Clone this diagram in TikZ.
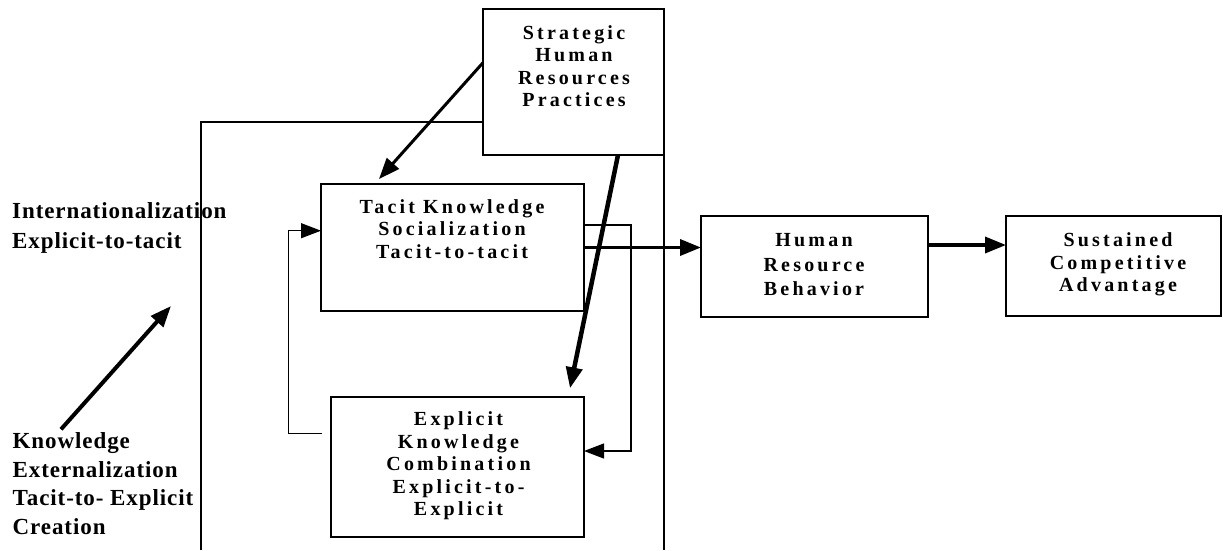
\documentclass[tikz,border=0pt]{standalone}
\usepackage{fontspec}
\setmainfont{Liberation Serif}
\newfontfamily\boxfont[LetterSpace=16]{Liberation Serif}
\newfontfamily\sidefont[LetterSpace=4]{Liberation Serif}
\usetikzlibrary{arrows.meta,calc}
\tikzset{
  box/.style={draw, line width=1.2pt, inner sep=0pt, outer sep=0pt, anchor=north west},
  boxtext/.style={font=\boxfont\bfseries\fontsize{20}{22.6}\selectfont, align=center, anchor=north, inner sep=0pt},
  sidetext/.style={font=\sidefont\bfseries\fontsize{23}{30}\selectfont, align=left, anchor=north west, inner sep=0pt},
  thinline/.style={line width=1.2pt},
  thinarrow/.style={line width=1.2pt, -{Triangle[length=20pt,width=15pt]}},
  heavyarrow/.style={line width=#1, -{Triangle[length=21pt,width=16pt]}},
}
\begin{document}
\begin{tikzpicture}[x=1pt,y=-1pt]
\useasboundingbox (0,0) rectangle (1223,550);

% boxes
\node[box, minimum width=181pt, minimum height=146pt] (shrp) at (483,9) {};
\node[box, minimum width=263pt, minimum height=127pt] (tacit) at (321,184) {};
\node[box, minimum width=253pt, minimum height=140pt] (explicit) at (331,397) {};
\node[box, minimum width=227pt, minimum height=101pt] (hrb) at (701,216) {};
\node[box, minimum width=215pt, minimum height=100pt] (sca) at (1006,216) {};

% box texts
\node[boxtext] (shrpT) at (574,25.1) {Strategic\\Human\\Resources\\Practices};
\node[boxtext] (tacitT) at (452,199.2) {Tacit Knowledge\\Socialization\\Tacit-to-tacit};
\node[boxtext] (explicitT) at (458.5,411.5) {Explicit\\Knowledge\\Combination\\Explicit-to-\\Explicit};
\node[boxtext, font=\boxfont\bfseries\fontsize{20}{24.5}\selectfont] (hrbT) at (814,233.5) {Human\\Resource\\Behavior};
\node[boxtext] (scaT) at (1118,232.5) {Sustained\\Competitive\\Advantage};

% side texts
\node[sidetext] (intl) at (12,202.7) {Internationalization\\Explicit-to-tacit};
\node[sidetext, font=\sidefont\bfseries\fontsize{23}{28.5}\selectfont] (ext) at (12.5,432.7) {Knowledge\\Externalization\\Tacit-to- Explicit\\Creation};

% outer frame
\coordinate (fTL) at (201,122);
\coordinate (fBL) at (201,550);
\coordinate (fBR) at (664,550);
\draw[thinline] (shrp.west |- fTL) -- (fTL) -- (fBL);
\draw[thinline] (shrp.south east) -- (fBR);

% right loop tacit -> explicit
\coordinate (r1) at (631,225);
\coordinate (r2) at (631,451);
\draw[thinarrow] (tacit.east |- r1) -- (r1) -- (r2) -- (explicit.east |- r2);

% left loop explicit -> tacit
\coordinate (lstart) at (321.7,433.3);
\coordinate (l1) at (288.3,433.3);
\coordinate (l2) at (288.3,230.7);
\draw[thinarrow] (lstart) -- (l1) -- (l2) -- (tacit.west |- l2);

% strategic arrows
\coordinate (stTip) at (379,179);
\draw[heavyarrow=3pt] ([yshift=-53.7pt]shrp.north west) -- (stTip);
\coordinate (seTip) at (570,388.3);
\draw[heavyarrow=4.5pt] ([xshift=135pt]shrp.south west) -- (seTip);

% main flow
\draw[heavyarrow=3.5pt] (tacit.east) -- (tacit.east -| hrb.west);
\draw[heavyarrow=3.5pt] ([yshift=21.5pt]hrb.east) -- ([yshift=21.5pt]hrb.east -| sca.west);

% externalization arrow
\coordinate (eStart) at (61,429.3);
\coordinate (eTip) at (171,306);
\draw[heavyarrow=4pt] (eStart) -- (eTip);
\end{tikzpicture}
\end{document}
